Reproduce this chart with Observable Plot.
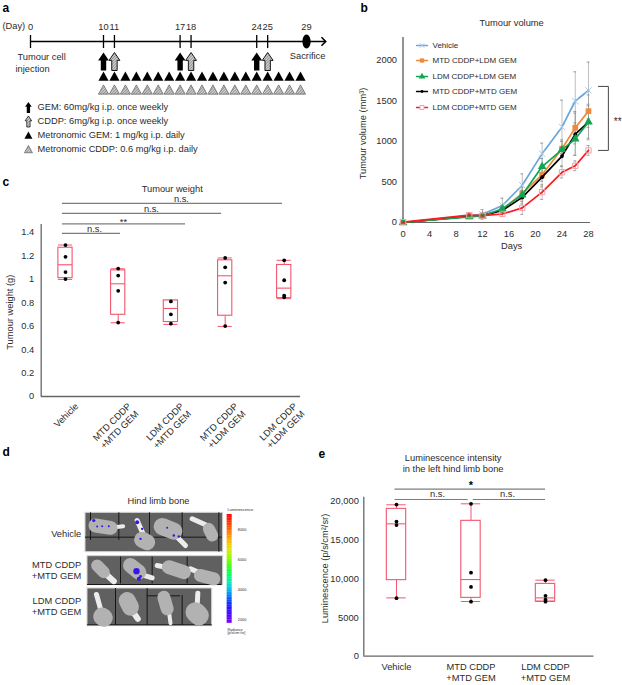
<!DOCTYPE html>
<html><head><meta charset="utf-8">
<script src="https://cdn.jsdelivr.net/npm/d3@7"></script>
<script src="https://cdn.jsdelivr.net/npm/@observablehq/plot@0.6"></script>
<style>
html,body{margin:0;padding:0;background:#fff}
#fig{position:relative;width:622px;height:685px;overflow:hidden}
</style></head><body><div id="fig"></div>
<script>
// ---------- panel a data
const tickDays = ["0","10","11","17","18","24","25","29"];
const tickSlots = [3.33,10,11,17,18,24,25,28.55]; // the day axis is broken before day 10
const gemDays = [10,17,24];
const cddpDays = [11,18,25];
const dailyDays = [10,11,12,13,14,15,16,17,18,19,20,21,22,23,24,25,26,27,28];
const legendA = ["GEM: 60mg/kg i.p. once weekly","CDDP: 6mg/kg i.p. once weekly","Metronomic GEM: 1 mg/kg i.p. daily","Metronomic CDDP: 0.6 mg/kg i.p. daily"];
// ---------- panel b data
const days = [0,10,12,15,18,21,24,26,28];
const seriesNames = ["Vehicle","MTD CDDP+LDM GEM","LDM CDDP+LDM GEM","MTD CDDP+MTD GEM","LDM CDDP+MTD GEM"];
const vehicle = [0,85,100,210,460,850,1180,1500,1630];
const mtdLdm = [0,75,85,160,360,590,910,1170,1375];
const ldmLdm = [0,70,80,170,340,690,900,1030,1240];
const mtdMtd = [0,75,85,150,310,560,820,1090,1240];
const ldmMtd = [5,90,85,105,180,375,620,700,890];
const vehicleErr = [0,20,60,90,140,130,330,360,350];
const mtdLdmErr = [0,15,20,40,70,80,110,200,200];
const ldmLdmErr = [0,15,20,40,60,100,100,200,220];
const mtdMtdErr = [0,15,20,30,80,120,120,260,200];
const ldmMtdErr = [0,20,20,30,80,90,70,60,60];
const seriesColors = ["#6aa5dc","#ee8a3c","#10a552","#000000","#fb1a22"];
// ---------- panel c data
const weightGroups = ["Vehicle","MTD CDDP\n+MTD GEM","LDM CDDP\n+MTD GEM","MTD CDDP\n+LDM GEM","LDM CDDP\n+LDM GEM"];
const weightSlots = [0,1,2,3.03,4.15];
const weightLow = [0.997,0.628,0.614,0.597,0.833];
const weightQ1 = [1.008,0.696,0.634,0.688,0.838];
const weightMed = [1.122,0.96,0.75,1.028,0.923];
const weightQ3 = [1.267,1.074,0.818,1.16,1.12];
const weightHigh = [1.29,1.088,0.82,1.18,1.16];
const weightPoints = [[1.29,1.19,1.06,1.0],[1.09,1.03,0.90,0.63],[0.81,0.70,0.62],[1.18,1.10,0.97,0.60],[1.16,0.99,0.86,0.845]];
const weightSig = [["n.s.",1.39,1.044,.55,.035],["**",1.47,2.277,1.1,.015],["n.s.",1.56,2.96,1.63,.035],["n.s.",1.645,4.117,2.2,.035]];
// ---------- panel e data
const lumGroups = ["Vehicle","MTD CDDP\n+MTD GEM","LDM CDDP\n+MTD GEM"];
const lumLow = [7540,7070,7070];
const lumQ1 = [9830,7540,7070];
const lumMed = [17110,9910,7540];
const lumQ3 = [19050,17500,9350];
const lumHigh = [19570,19700,9830];
const lumPoints = [[19600,17400,16950,7500],[19700,10800,8950,7050],[9830,7800,7300,7050]];
// ---------- panel d data (read in a 900-wide image space)
const rowLabels = [["Vehicle",278],["MTD CDDP\n+MTD GEM",388],["LDM CDDP\n+MTD GEM",497]];
const photos = [[255,217,668,335],[261,347,668,434],[261,444,635,557]];
const gridV = [[270,217,300],[355,217,300],[447,217,300],[545,217,290],[655,217,335],[360,350,430],[455,350,430],[560,350,430],[345,444,555],[440,444,555],[545,465,555]];
const gridH = [[255,665,290],[261,665,432],[440,540,466],[261,635,553]];
const boneBodies = [[285,255,330,262,14],[425,298,440,305,16],[485,258,520,272,17],[625,265,635,285,12],[290,375,310,395,12],[390,375,415,395,15],[505,380,550,395,14],[600,405,640,415,13],[305,528,310,532,18],[380,480,390,500,17],[490,470,500,505,13],[585,515,595,525,20]];
const boneShafts = [[330,262,368,257,4],[410,240,430,285,5],[520,280,555,315,5],[575,235,620,255,5],[310,395,340,422,6],[415,400,455,412,5],[470,375,505,382,5],[570,385,605,400,5],[288,462,300,505,5],[395,510,412,535,6],[505,510,510,548,4],[592,458,590,495,5]];
const signalSpots = [[280,240,1.6],[290,258,1],[305,257,1],[325,257,1],[410,245,2],[425,265,1.2],[420,295,1.2],[500,262,1],[520,285,1.2],[535,288,1.2],[408,392,3.2],[415,415,2],[420,408,1.4]];
const rainbowStops = ["#ff0000","#ff8000","#ffff00","#00ff00","#00ffff","#0000ff","#8000ff"];
const barTicks = [[8000,267],[6000,357],[4000,447],[2000,537]];

const FONT = "'Liberation Sans',Arial,sans-serif";
const INK = "#2b2b2b", AXIS = "#666", BOX = "#f4566f", SIG="#7c7c7c";
const fig = document.getElementById("fig");

const label = (t,x,y,o={}) => Plot.text([{t,x,y}],{x:"x",y:"y",text:"t",fill:INK,fontSize:9.3,...o});
const letter = (t,x,y) => label(t,x,y,{fontSize:12,fontWeight:"bold",fill:"#000",textAnchor:"start"});

function panel(left,top,width,height,opts){
  const svg = Plot.plot({width,height,marginTop:0,marginRight:0,marginBottom:0,marginLeft:0,
    style:{position:"absolute",left:left+"px",top:top+"px",fontFamily:FONT,fontSize:"9.3px",color:INK,background:"transparent",maxWidth:"none"},
    ...opts});
  fig.appendChild(svg);
  return svg;
}
// drawn symbols
const arrowSym = {draw(c,size){const k=Math.sqrt(size/Math.PI)/8;
  c.moveTo(0,-8*k);c.lineTo(4.8*k,-1*k);c.lineTo(2.4*k,-1*k);c.lineTo(2.4*k,8*k);c.lineTo(-2.4*k,8*k);c.lineTo(-2.4*k,-1*k);c.lineTo(-4.8*k,-1*k);c.closePath();}};
const triSym = {draw(c,size){const r=Math.sqrt(size/Math.PI);
  c.moveTo(0,-r);c.lineTo(r,r*0.82);c.lineTo(-r,r*0.82);c.closePath();}};
const ovalSym = {draw(c,size){const r=Math.sqrt(size/Math.PI),a=r*.58,k=.5523;
  c.moveTo(0,-r);c.bezierCurveTo(a*k,-r,a,-r*k,a,0);c.bezierCurveTo(a,r*k,a*k,r,0,r);
  c.bezierCurveTo(-a*k,r,-a,r*k,-a,0);c.bezierCurveTo(-a,-r*k,-a*k,-r,0,-r);c.closePath();}};
const headSym = {draw(c,size){const r=Math.sqrt(size/Math.PI);
  c.moveTo(-r*.6,-r*.6);c.lineTo(0,0);c.lineTo(-r*.6,r*.6);}};

// ================= panel a
const LEG_X = 3.14;
const svgA = panel(0,0,335,170,{x:{domain:[10,28],range:[103,300],axis:null},y:{domain:[0,170],range:[0,170],axis:null},marks:[
  letter("a",.77,8),
  label("(Day)",.77,26,{textAnchor:"start"}),
  Plot.ruleY([41],{x1:3.33,x2:30.3,stroke:"#000",strokeWidth:1.6}),
  Plot.ruleX(tickSlots.slice(0,-1),{x:d=>d,y1:35,y2:48,stroke:"#000",strokeWidth:1.3}),
  Plot.text(tickDays,{x:(d,i)=>tickSlots[i],y:27,text:d=>d,fill:INK,fontSize:9.3}),
  Plot.dot([30.3],{x:d=>d,y:41,r:7,symbol:headSym,fill:"none",stroke:"#000",strokeWidth:1.6}),
  Plot.dot([28.55],{x:d=>d,y:41,r:7,symbol:ovalSym,fill:"#000"}),
  label("Tumour cell",2.14,57,{textAnchor:"start"}),
  label("injection",1.96,68.5,{textAnchor:"start"}),
  label("Sacrifice",28.65,56),
  Plot.dot(gemDays,{x:d=>d,y:61,r:9,symbol:arrowSym,fill:"#000"}),
  Plot.dot(cddpDays,{x:d=>d,y:61,r:9,symbol:arrowSym,fill:"url(#hatchA)",stroke:"#000",strokeWidth:0.9}),
  Plot.dot(dailyDays,{x:d=>d,y:76,r:5.1,symbol:triSym,fill:"#000"}),
  Plot.dot(dailyDays,{x:d=>d,y:89.5,r:5.1,symbol:triSym,fill:"url(#hatchA)",stroke:"#444",strokeWidth:0.6}),
  Plot.dot([107],{x:LEG_X,y:d=>d,r:5.5,symbol:arrowSym,fill:"#000"}),
  Plot.dot([121],{x:LEG_X,y:d=>d,r:5.5,symbol:arrowSym,fill:"url(#hatchA)",stroke:"#000",strokeWidth:0.7}),
  Plot.dot([135],{x:LEG_X,y:d=>d,r:4,symbol:triSym,fill:"#000"}),
  Plot.dot([149],{x:LEG_X,y:d=>d,r:4,symbol:triSym,fill:"url(#hatchA)",stroke:"#444",strokeWidth:0.6}),
  Plot.text(legendA,{x:3.97,y:(d,i)=>[107,121,135,149][i],text:d=>d,textAnchor:"start",fill:INK,fontSize:9.3})
]});
const defs = document.createElementNS("http://www.w3.org/2000/svg","defs");
defs.innerHTML = '<pattern id="hatchA" width="2" height="2" patternUnits="userSpaceOnUse" patternTransform="rotate(45)"><rect width="2" height="2" fill="#d8d8d8"/><rect width="0.9" height="2" fill="#8a8a8a"/></pattern>';
svgA.prepend(defs);

// ================= panel b
const seriesValues = [vehicle,mtdLdm,ldmLdm,mtdMtd,ldmMtd];
const seriesErrs = [vehicleErr,mtdLdmErr,ldmLdmErr,mtdMtdErr,ldmMtdErr];
const rowsB = seriesNames.flatMap((s,i)=>days.map((d,j)=>({s,i,d,v:seriesValues[i][j],e:seriesErrs[i][j]})));
const legY = [2185,2000,1802,1617,1420];
const legRows = seriesNames.flatMap((s,i)=>[2.04,3.7].map(d=>({s,i,d,v:legY[i]})));
const drawOrder = [0,1,3,2,4];
const markSyms = ["times","square","triangle","circle","square"];
const markSizes = [3,3.2,3.2,1.9,3];
const markFill = ["none","#ee8a3c","#10a552","#000","none"];
const markStroke = ["#a9cbec","none","none","none","#f7a0a5"];
const markDots = i => Plot.dot(rowsB.filter(r=>r.i===i),{x:"d",y:"v",r:markSizes[i],symbol:markSyms[i],fill:markFill[i],stroke:markStroke[i],strokeWidth:1});
const legDots = i => Plot.dot([{d:2.87,v:legY[i]}],{x:"d",y:"v",r:markSizes[i]*.75,symbol:markSyms[i],fill:markFill[i]==="none"?"#fff":markFill[i],stroke:markStroke[i],strokeWidth:1});
panel(340,0,282,260,{marginLeft:62.5,marginRight:34,marginTop:37,marginBottom:38,
 x:{domain:[0,28],axis:null},y:{domain:[0,2284],axis:null},marks:[
  Plot.axisY({ticks:[0,500,1000,1500,2000],tickSize:0,tickPadding:6,label:null,tickFormat:d=>String(d)}),
  Plot.axisX({ticks:[0,4,8,12,16,20,24,28],tickSize:0,tickPadding:8,label:null,tickFormat:d=>String(d)}),
  Plot.ruleX(rowsB.filter(r=>r.e>0),{x:"d",y1:r=>r.v-r.e,y2:r=>r.v+r.e,stroke:"#9a9a9a",strokeWidth:0.8,strokeOpacity:.8}),
  Plot.ruleY(rowsB.filter(r=>r.e>0),{y:r=>r.v+r.e,x1:r=>r.d-.22,x2:r=>r.d+.22,stroke:"#8a8a8a",strokeWidth:.8}),
  Plot.ruleY(rowsB.filter(r=>r.e>0),{y:r=>r.v-r.e,x1:r=>r.d-.22,x2:r=>r.d+.22,stroke:"#8a8a8a",strokeWidth:.8}),
  Plot.ruleX([0],{y1:0,y2:2284,stroke:AXIS,strokeWidth:1.4}),
  Plot.ruleY([0],{x1:0,x2:28.3,stroke:AXIS,strokeWidth:1.2}),
  ...drawOrder.flatMap(i=>[Plot.line(rowsB.filter(r=>r.i===i),{x:"d",y:"v",stroke:seriesColors[i],strokeWidth:1.7}),markDots(i)]),
  ...drawOrder.map(i=>Plot.line(legRows.filter(r=>r.i===i),{x:"d",y:"v",stroke:seriesColors[i],strokeWidth:1.4})),
  ...drawOrder.map(legDots),
  Plot.text(seriesNames,{x:4.45,y:(d,i)=>legY[i],text:d=>d,textAnchor:"start",fill:INK,fontSize:8}),
  letter("b",-6.4,2650),
  label("Tumour volume",16.4,2457),
  label("Days",16.4,-296),
  label("Tumour volume (mm³)",-5.96,1099,{rotate:-90}),
  Plot.line([{d:29.5,v:1680},{d:31,v:1680},{d:31,v:890},{d:29.5,v:890}],{x:"d",y:"v",stroke:"#333",strokeWidth:.9}),
  label("**",32.4,1240,{fontSize:10})
]});

// ================= panel c  (letter d of the next row sits here too, clear of its photos)
const catIdx = weightGroups.map((_,i)=>i);
const boxHalf = .135;
const ptsC = weightPoints.flatMap((a,i)=>a.map(v=>({x:weightSlots[i],v})));
const xc = i=>weightSlots[i];
panel(0,170,340,292,{marginLeft:40.7,marginRight:0,marginTop:54,marginBottom:66,
 x:{domain:[-0.461,5.218],range:[40.7,340],axis:null},y:{domain:[0,1.465],axis:null},marks:[
  Plot.axisY({ticks:[0,.2,.4,.6,.8,1,1.2,1.4],tickSize:0,tickPadding:7,label:null,tickFormat:d=>String(+d.toFixed(1))}),
  Plot.ruleX([-0.461],{y1:0,y2:1.465,stroke:AXIS,strokeWidth:1.3}),
  Plot.ruleY([0],{x1:-0.461,x2:4.46,stroke:AXIS,strokeWidth:1.3}),
  Plot.ruleX(catIdx,{x:xc,y1:i=>weightLow[i],y2:i=>weightQ1[i],stroke:BOX}),
  Plot.ruleX(catIdx,{x:xc,y1:i=>weightQ3[i],y2:i=>weightHigh[i],stroke:BOX}),
  Plot.ruleY(catIdx,{y:i=>weightLow[i],x1:i=>xc(i)-boxHalf,x2:i=>xc(i)+boxHalf,stroke:BOX}),
  Plot.ruleY(catIdx,{y:i=>weightHigh[i],x1:i=>xc(i)-boxHalf,x2:i=>xc(i)+boxHalf,stroke:BOX}),
  Plot.rect(catIdx,{x1:i=>xc(i)-boxHalf,x2:i=>xc(i)+boxHalf,y1:i=>weightQ1[i],y2:i=>weightQ3[i],fill:"#fff",stroke:BOX,strokeWidth:1.1}),
  Plot.ruleY(catIdx,{y:i=>weightMed[i],x1:i=>xc(i)-boxHalf,x2:i=>xc(i)+boxHalf,stroke:BOX,strokeWidth:1.1}),
  Plot.dot(ptsC,{x:"x",y:"v",r:1.9,fill:"#000"}),
  Plot.text(weightGroups,{x:(d,i)=>xc(i),y:0,text:d=>d,rotate:-45,textAnchor:"end",lineAnchor:"top",dx:8,dy:5,fill:INK,fontSize:9.3,lineHeight:1.15}),
  Plot.ruleY(weightSig,{y:d=>d[1],x1:-0.057,x2:d=>d[2],stroke:SIG,strokeWidth:1.2}),
  Plot.text(weightSig,{x:d=>d[3],y:d=>d[1]+d[4],text:d=>d[0],fill:INK,fontSize:9.3}),
  letter("c",-1.195,1.823),
  letter("d",-1.195,-.477),
  label("Tumour weight",2.025,1.77),
  label("Tumour weight (g)",-1.05,.718,{rotate:-90})
]});

// ================= panel d
const barN = d3.range(0,66);
const barColor = d3.interpolateRgbBasis(rainbowStops);
panel(0,462,300,194,{x:{domain:[0,900],range:[0,300],axis:null},y:{domain:[66,648],range:[0,194],axis:null},color:{type:"identity"},r:{type:"identity"},marks:[
  label("Hind limb bone",474,181),
  Plot.text(rowLabels,{x:242,y:d=>d[1],text:d=>d[0],textAnchor:"end",fill:INK,fontSize:9.3,lineHeight:1.2}),
  Plot.rect(photos,{x1:d=>d[0],y1:d=>d[1],x2:d=>d[2],y2:d=>d[3],fill:"#606060",stroke:"#d4d4d4",strokeWidth:1}),
  Plot.ruleX(gridV,{x:d=>d[0],y1:d=>d[1],y2:d=>d[2],stroke:"#161616",strokeWidth:1}),
  Plot.ruleY(gridH,{x1:d=>d[0],x2:d=>d[1],y:d=>d[2],stroke:"#161616",strokeWidth:1}),
  Plot.link(boneShafts,{x1:d=>d[0],y1:d=>d[1],x2:d=>d[2],y2:d=>d[3],stroke:"#ececec",strokeWidth:d=>d[4],strokeLinecap:"round"}),
  Plot.link(boneBodies,{x1:d=>d[0],y1:d=>d[1],x2:d=>d[2],y2:d=>d[3],stroke:"#b2b2b2",strokeWidth:d=>d[4],strokeLinecap:"round"}),
  Plot.dot(signalSpots,{x:d=>d[0],y:d=>d[1],r:d=>d[2],fill:"#3a14f0"}),
  Plot.rect(barN,{x1:680,x2:695,y1:i=>222+i*326/66,y2:i=>222+(i+1.1)*326/66,fill:i=>barColor(i/65)}),
  Plot.text(barTicks,{x:712,y:d=>d[1],text:d=>String(d[0]),textAnchor:"start",fontSize:3.8,fill:INK}),
  label("Luminescence",681,207,{textAnchor:"start",fontSize:4}),
  label("Radiance\n[p/s/cm²/sr]",681,573,{textAnchor:"start",fontSize:3.6})
]});

// ================= panel e
const lumIdx = lumGroups.map((_,i)=>i);
const ptsE = lumPoints.flatMap((a,i)=>a.map(v=>({x:i,v})));
const boxE = .13;
panel(300,444,322,241,{marginLeft:63.3,marginRight:0,marginTop:52.7,marginBottom:29.3,
 x:{domain:[-0.4389,3.0],range:[63.3,319.5],axis:null},y:{domain:[0,20555],axis:null},marks:[
  Plot.axisY({ticks:[0,5000,10000,15000,20000],tickSize:0,tickPadding:5,label:null,tickFormat:d=>d>=10000?d3.format(",")(d):String(d)}),
  Plot.ruleX([-0.4389],{y1:0,y2:20555,stroke:AXIS,strokeWidth:1.3}),
  Plot.ruleY([0],{x1:-0.4389,x2:2.65,stroke:AXIS,strokeWidth:1.3}),
  Plot.ruleX(lumIdx,{x:i=>i,y1:i=>lumLow[i],y2:i=>lumQ1[i],stroke:BOX}),
  Plot.ruleX(lumIdx,{x:i=>i,y1:i=>lumQ3[i],y2:i=>lumHigh[i],stroke:BOX}),
  Plot.ruleY(lumIdx,{y:i=>lumLow[i],x1:i=>i-boxE,x2:i=>i+boxE,stroke:BOX}),
  Plot.ruleY(lumIdx,{y:i=>lumHigh[i],x1:i=>i-boxE,x2:i=>i+boxE,stroke:BOX}),
  Plot.rect(lumIdx,{x1:i=>i-boxE,x2:i=>i+boxE,y1:i=>lumQ1[i],y2:i=>lumQ3[i],fill:"#fff",stroke:BOX,strokeWidth:1.1}),
  Plot.ruleY(lumIdx,{y:i=>lumMed[i],x1:i=>i-boxE,x2:i=>i+boxE,stroke:BOX,strokeWidth:1.1}),
  Plot.dot(ptsE,{x:"x",y:"v",r:1.9,fill:"#000"}),
  Plot.text(lumGroups,{x:(d,i)=>i,y:0,text:d=>d,lineAnchor:"top",dy:6,fill:INK,fontSize:9.3,lineHeight:1.2}),
  Plot.ruleY([{a:-.02,b:2.0,y:21590}],{x1:"a",x2:"b",y:"y",stroke:SIG,strokeWidth:1.2}),
  Plot.ruleY([{a:-.02,b:.962,y:20260},{a:1.03,b:2.0,y:20260}],{x1:"a",x2:"b",y:"y",stroke:SIG,strokeWidth:1.2}),
  label("*",1.0,22070,{fontSize:11,fontWeight:"bold",fill:"#000"}),
  label("n.s.",.55,21000),
  label("n.s.",1.49,21000),
  letter("e",-1.047,26100),
  label("Luminescence intensity\nin the left hind limb bone",.76,24980,{lineHeight:1.2}),
  label("Luminescence (p/s/cm²/sr)",-.966,11340,{rotate:-90})
]});
</script></body></html>
